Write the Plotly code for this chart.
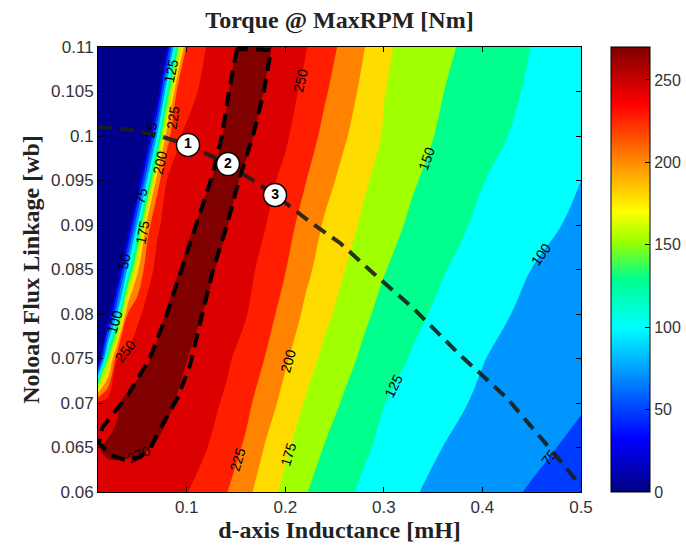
import plotly.graph_objects as go

# d-axis inductance [mH] (columns) and no-load flux linkage [Wb] (rows)
inductance_mH = [0.01, 0.02, 0.03, 0.04, 0.05, 0.06, 0.07, 0.08, 0.09, 0.10,
                 0.12, 0.14, 0.16, 0.18, 0.20, 0.22, 0.24, 0.26, 0.28, 0.30,
                 0.33, 0.36, 0.40, 0.45, 0.50]
flux_wb = [0.06, 0.065, 0.07, 0.075, 0.08, 0.085, 0.09, 0.095, 0.10, 0.105, 0.11]

# torque at max rpm [Nm], one row per flux value (bottom to top)
torque_Nm = [
    [265, 265.5, 265, 264, 262.5, 260.5, 258.3, 256, 253.3, 250.8, 239.5, 226.3, 207, 186.5, 168.3, 151.7, 140.2, 129.9, 120.7, 112.9, 101.6, 93.9, 84.7, 72.9, 61.3],
    [269.5, 271.5, 272, 272, 271.6, 270.7, 268.5, 264.9, 261.3, 257.6, 250.7, 237.1, 221.4, 198, 179, 163.2, 148.9, 138.8, 128.2, 120.1, 110.1, 99.8, 91.4, 80.6, 69.6],
    [258, 263.5, 268.9, 274.4, 279.3, 281.9, 277.7, 273.4, 269.1, 264.9, 256.8, 246.9, 231.3, 211.4, 191.7, 173.6, 159.7, 147.3, 136.4, 125.5, 116, 106.4, 96.3, 86.5, 77],
    [0, 152, 250, 256.3, 261.9, 268.1, 274.4, 278.9, 274.7, 270.4, 262.3, 253.8, 240.8, 223.9, 203.3, 185.3, 169.7, 157.2, 145.5, 135.5, 122.5, 113.1, 100.9, 88.8, 77.1],
    [0, 0, 107, 225, 245.5, 256.2, 263.8, 271.5, 279.2, 276.4, 268.3, 259.8, 251.3, 234.3, 215.6, 196, 180.2, 166.9, 153.9, 143.6, 130.5, 119.5, 107.6, 94.5, 83.6],
    [0, 0, 0, 105, 195, 242.5, 254.7, 261.3, 268, 274.7, 274.1, 265, 255.9, 243.5, 225.9, 206, 189.6, 175.4, 163.3, 151.2, 138.8, 126.3, 114.4, 99.8, 90.3],
    [0, 0, 0, 0, 103, 214, 247.5, 254.9, 260.3, 265.7, 275.9, 271, 260.8, 250.5, 234.3, 215.8, 197.2, 183.8, 170.8, 159.6, 145.3, 133.6, 120.3, 106.6, 95.7],
    [0, 0, 0, 0, 0, 103, 214, 250.4, 254.9, 259.3, 267.8, 276.5, 266.5, 256.5, 244.6, 226.4, 208.2, 192.6, 177.9, 166.8, 152, 140.3, 125.7, 112.6, 100],
    [0, 0, 0, 0, 0, 0, 103, 213.9, 247.5, 254.1, 262.7, 271.8, 274.3, 263.5, 253.2, 237, 219, 202.6, 187.1, 173.1, 159.1, 146.1, 132.4, 118, 106.1],
    [0, 0, 0, 0, 0, 0, 0, 125, 226.5, 241.2, 257.2, 268.3, 279.4, 268.9, 258.3, 245.5, 227.7, 211.2, 193.8, 175.9, 163.1, 150.4, 137, 121.7, 111],
    [0, 0, 0, 0, 0, 0, 0, 24, 136, 227.5, 250.6, 263.5, 276.5, 273.3, 262.8, 251.7, 235.3, 218.8, 200.9, 179.3, 165.7, 154.5, 141, 124.6, 114.9],
]

# dashed limit loop
loop_x = [0.1510, 0.1429, 0.1358, 0.1246, 0.1094, 0.0942, 0.0800, 0.0628, 0.0404, 0.0141,
          0.0110, 0.0222, 0.0374, 0.0526, 0.0628, 0.0709, 0.0912, 0.1033, 0.1135, 0.1267,
          0.1409, 0.1530, 0.1672, 0.1784, 0.1855, 0.1510]
loop_y = [0.10978, 0.10506, 0.1000, 0.09506, 0.0900, 0.08494, 0.0800, 0.07506, 0.0709, 0.06719,
          0.06551, 0.06416, 0.0636, 0.06393, 0.06483, 0.06663, 0.07067, 0.07427, 0.0791, 0.08494,
          0.0900, 0.09506, 0.1000, 0.10506, 0.10966, 0.10978]

# dashed operating trajectory
path_x = [0.0100, 0.0445, 0.0729, 0.1013, 0.1419, 0.1896, 0.2281, 0.2555, 0.2890, 0.3296,
          0.3773, 0.4249, 0.4716, 0.5000]
path_y = [0.10101, 0.10067, 0.1000, 0.09899, 0.09685, 0.09337, 0.09011, 0.08798, 0.08461,
          0.08067, 0.07539, 0.07056, 0.06449, 0.06067]

# numbered design points
point_x = [0.1013, 0.1419, 0.1896]
point_y = [0.0990, 0.09685, 0.09337]
point_labels = ["1", "2", "3"]

level_start, level_end, level_step = 25, 250, 25
peak_level = 270
cbar_ticks = [0, 50, 100, 150, 200, 250]

band_colors = ["rgb(0,0,140)", "rgb(0,0,230)", "rgb(0,60,255)", "rgb(0,150,255)",
               "rgb(0,255,255)", "rgb(0,255,140)", "rgb(160,255,0)", "rgb(255,220,0)",
               "rgb(255,130,0)", "rgb(255,30,0)", "rgb(220,0,0)"]
band_scale = [[i / (len(band_colors) - 1), c] for i, c in enumerate(band_colors)]

jet_scale = [[0.0, "rgb(0,0,130)"], [0.12, "rgb(0,0,255)"], [0.37, "rgb(0,255,255)"],
             [0.48, "rgb(0,255,140)"], [0.56, "rgb(150,255,0)"], [0.63, "rgb(255,255,0)"],
             [0.75, "rgb(255,130,0)"], [0.87, "rgb(255,0,0)"], [1.0, "rgb(128,0,0)"]]

label_font = dict(family="Liberation Sans, Arial", size=14, color="black")

fig = go.Figure()

fig.add_trace(go.Contour(
    x=inductance_mH, y=flux_wb, z=torque_Nm,
    autocontour=False,
    contours=dict(start=level_start, end=level_end, size=level_step,
                  coloring="fill", showlines=False, showlabels=True,
                  labelfont=label_font),
    colorscale=band_scale, showscale=False,
    line=dict(width=0), hoverinfo="skip",
))

# region above the 270 Nm level
fig.add_trace(go.Contour(
    x=inductance_mH, y=flux_wb, z=torque_Nm,
    contours=dict(type="constraint", operation="<", value=peak_level,
                  showlabels=True, labelfont=label_font),
    fillcolor="rgb(128,0,0)", line=dict(width=0, color="rgb(128,0,0)"),
    showscale=False, hoverinfo="skip",
))

# continuous colour bar (heatmap sits outside the visible x range)
fig.add_trace(go.Heatmap(
    x=[10, 11], y=[0.07, 0.08], z=[[0, peak_level], [0, peak_level]],
    zmin=0, zmax=peak_level, colorscale=jet_scale, hoverinfo="skip",
    colorbar=dict(x=1.062, xanchor="left", xpad=0, y=0.5, yanchor="middle",
                  len=1.0, lenmode="fraction", thickness=39, ypad=0,
                  outlinecolor="black", outlinewidth=1,
                  tickvals=cbar_ticks, ticks="inside", ticklen=5,
                  tickcolor="black",
                  tickfont=dict(family="Liberation Sans, Arial", size=16, color="#333")),
))

fig.add_trace(go.Scatter(
    x=loop_x, y=loop_y, mode="lines",
    line=dict(color="black", width=4, dash="14px,8px"),
    hoverinfo="skip", showlegend=False,
))

fig.add_trace(go.Scatter(
    x=path_x, y=path_y, mode="lines",
    line=dict(color="rgba(25,30,25,0.9)", width=4, dash="14px,8px"),
    hoverinfo="skip", showlegend=False,
))

fig.add_trace(go.Scatter(
    x=point_x, y=point_y, mode="markers+text", text=point_labels,
    textposition="middle center",
    textfont=dict(family="Liberation Sans, Arial", size=14, color="black", weight="bold"),
    marker=dict(size=23, color="white", line=dict(color="black", width=1.5)),
    hoverinfo="skip", showlegend=False,
))

axis_font = dict(family="Liberation Sans, Arial", size=17, color="#333")
title_font = dict(family="Liberation Serif, Times New Roman", size=24, color="#222")

fig.update_layout(
    width=686, height=548,
    margin=dict(l=98, r=105, t=47, b=56, autoexpand=False),
    paper_bgcolor="white", plot_bgcolor="white",
    showlegend=False,
    title=dict(text="<b>Torque @ MaxRPM [Nm]</b>", x=0.5, xref="paper",
               y=1 - 20 / 548, yref="container", yanchor="middle",
               font=title_font),
    xaxis=dict(range=[0.01, 0.5], tickvals=[0.1, 0.2, 0.3, 0.4, 0.5],
               ticktext=["0.1", "0.2", "0.3", "0.4", "0.5"],
               ticks="inside", ticklen=5, tickcolor="black",
               showline=True, linecolor="black", linewidth=1, mirror="ticks",
               showgrid=False, zeroline=False, tickfont=axis_font,
               title=dict(text="<b>d-axis Inductance [mH]</b>", font=title_font, standoff=2)),
    yaxis=dict(range=[0.06, 0.11],
               tickvals=[0.06, 0.065, 0.07, 0.075, 0.08, 0.085, 0.09, 0.095, 0.1, 0.105, 0.11],
               ticktext=["0.06", "0.065", "0.07", "0.075", "0.08", "0.085", "0.09",
                         "0.095", "0.1", "0.105", "0.11"],
               ticks="inside", ticklen=5, tickcolor="black",
               showline=True, linecolor="black", linewidth=1, mirror="ticks",
               showgrid=False, zeroline=False, tickfont=axis_font,
               title=dict(text="<b>Noload Flux Linkage [wb]</b>", font=title_font, standoff=4)),
)

fig.write_html("out.html")
